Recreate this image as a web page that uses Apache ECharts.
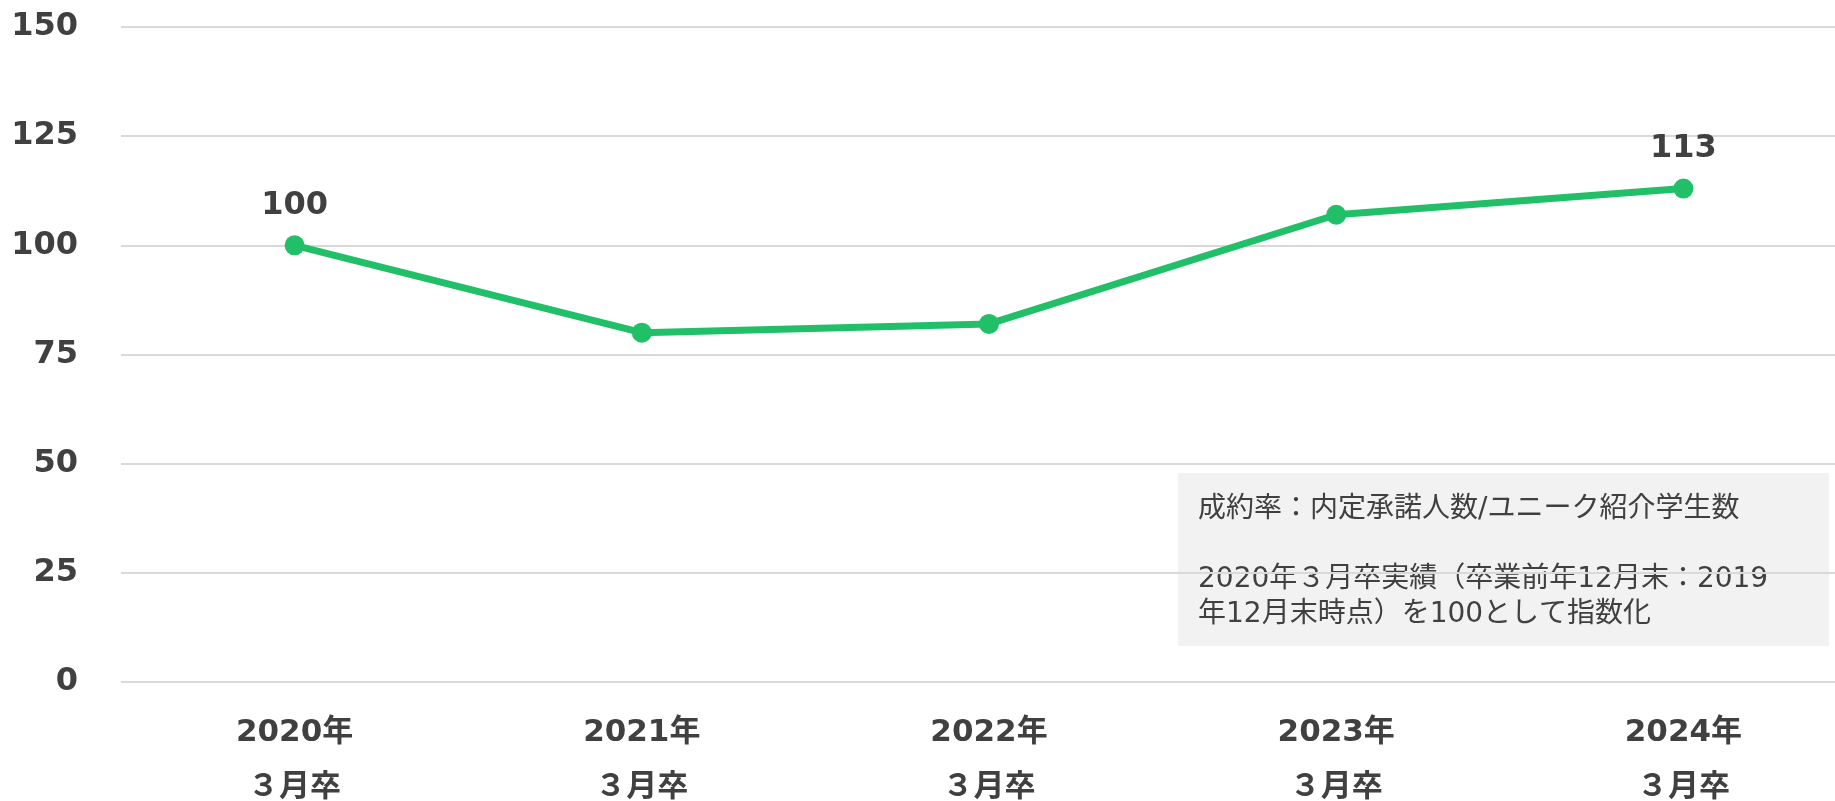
<!DOCTYPE html>
<html>
<head>
<meta charset="utf-8">
<script src="https://cdn.jsdelivr.net/npm/echarts@6/dist/echarts.min.js"></script>
<style>
html,body{margin:0;padding:0;background:#fff;}
#chart{width:1835px;height:801px;}
</style>
</head>
<body>
<div id="chart"></div>
<script>
// 成約率の指数推移
var years = ['2020年', '2021年', '2022年', '2023年', '2024年'];
var gradMonth = '３月卒';
var indexValues = [100, 80, 82, 107, 113];
var labelledPoints = [0, 4];
var yMin = 0, yMax = 150, yStep = 25;
var noteLines = [
    '成約率：内定承諾人数/ユニーク紹介学生数',
    '',
    '2020年３月卒実績（卒業前年12月末：2019',
    '年12月末時点）を100として指数化'
];

var fontBold = "'DejaVu Sans', 'Noto Sans CJK JP', sans-serif";
var fontNote = "'DejaVu Sans', 'Noto Sans CJK JP', sans-serif";
var textColor = '#404040';
var green = '#22BF69';

var myChart = echarts.init(document.getElementById('chart'));

var option = {
    backgroundColor: '#fff',
    animation: false,
    grid: {
        left: 121,
        right: -22,
        top: 27,
        bottom: 119,
        outerBoundsMode: 'none'
    },
    xAxis: {
        type: 'category',
        data: years.map(function (y) { return y + '\n' + gradMonth; }),
        axisLine: {show: false},
        axisTick: {show: false},
        axisLabel: {
            margin: 23,
            color: textColor,
            fontFamily: fontBold,
            fontWeight: 'bold',
            fontSize: 31,
            lineHeight: 55
        }
    },
    yAxis: {
        type: 'value',
        min: yMin,
        max: yMax,
        interval: yStep,
        axisLine: {show: false},
        axisTick: {show: false},
        axisLabel: {
            margin: 43,
            color: textColor,
            fontFamily: fontBold,
            fontWeight: 'bold',
            fontSize: 32
        },
        splitLine: {
            lineStyle: {color: '#D9D9D9', width: 2}
        }
    },
    series: [{
        type: 'line',
        data: indexValues.map(function (v, i) {
            return {
                value: v,
                label: {show: labelledPoints.indexOf(i) >= 0}
            };
        }),
        symbol: 'circle',
        symbolSize: 20,
        itemStyle: {color: green},
        lineStyle: {color: green, width: 7},
        label: {
            position: 'top',
            distance: 14,
            color: textColor,
            fontFamily: fontBold,
            fontWeight: 'bold',
            fontSize: 32
        }
    }],
    graphic: [{
        type: 'group',
        left: 1178,
        top: 473,
        children: [{
            type: 'rect',
            shape: {x: 0, y: 0, width: 651, height: 173},
            style: {fill: '#F2F2F2'}
        }, {
            type: 'text',
            x: 20,
            y: 19,
            style: {
                text: noteLines.join('\n'),
                font: '28px ' + fontNote,
                lineHeight: 35,
                fill: textColor,
                verticalAlign: 'top'
            }
        }]
    }]
};

myChart.setOption(option, true);
</script>
</body>
</html>
